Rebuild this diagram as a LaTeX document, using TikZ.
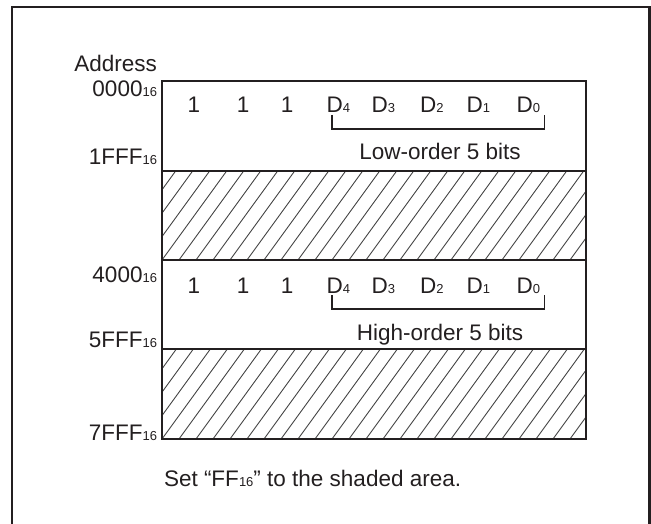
\documentclass[tikz,border=0pt]{standalone}
\usepackage{fontspec}
\setmainfont{Liberation Sans}
\newcommand{\smallsub}[1]{{\fontsize{13}{13}\selectfont #1}}
\definecolor{ink}{HTML}{231F20}
\definecolor{hatchgray}{HTML}{444444}
\begin{document}
\begin{tikzpicture}[x=1pt,y=-1pt,
  font=\fontsize{22.5}{27}\selectfont,
  every node/.style={inner sep=0pt,outer sep=0pt,text=ink},
  addrlabel/.style={anchor=base east},
  cell/.style={anchor=base west},
  frameline/.style={draw=ink,line width=2.2pt},
  boxline/.style={draw=ink,line width=2pt},
  hatchline/.style={draw=hatchgray,line width=0.9pt},
  bracketline/.style={draw=ink,line width=1.8pt}]
\useasboundingbox (0,0) rectangle (651,524);
% outer frame (bottom edge off the picture)
\draw[frameline] (12,530) -- (12,7) -- (649.5,7) -- (649.5,530);

% hatched bands
\foreach \t/\b in {170.7/260, 349.3/439}{
  \begin{scope}
    \clip (162,\t) rectangle (586,\b);
    \foreach \k in {-6,...,25}{
      \draw[hatchline] ({162+\k*17},\b) -- ++({(\b-\t)/tan(54)},{-(\b-\t)});
    }
  \end{scope}
}

% memory box
\draw[boxline] (162,80.7) rectangle (586,439);
\draw[boxline] (162,170.7) -- (586,170.7);
\draw[boxline] (162,260) -- (586,260);
\draw[boxline] (162,349.3) -- (586,349.3);

% addresses
\node[addrlabel] (addr) at (157,72) {Address};
\node[addrlabel] (a0000) at (157,97) {0000\smallsub{16}};
\node[addrlabel] (a1fff) at (157,165) {1FFF\smallsub{16}};
\node[addrlabel] (a4000) at (157,282) {4000\smallsub{16}};
\node[addrlabel] (a5fff) at (157,347) {5FFF\smallsub{16}};
\node[addrlabel] (a7fff) at (157,440) {7FFF\smallsub{16}};

% row 1
\node[cell] (r1a) at (187.5,113) {1};
\node[cell] (r1b) at (236.8,113) {1};
\node[cell] (r1c) at (280.8,113) {1};
\node[cell] (r1d4) at (326.6,113) {D\smallsub{4}};
\node[cell] (r1d3) at (371.6,113) {D\smallsub{3}};
\node[cell] (r1d2) at (420,113) {D\smallsub{2}};
\node[cell] (r1d1) at (466.6,113) {D\smallsub{1}};
\node[cell] (r1d0) at (516.6,113) {D\smallsub{0}};
\coordinate (b1l) at (332,115);
\coordinate (b1r) at (544.5,115);
\draw[bracketline] (b1l) -- ++(0,14) -| (b1r);
\node[anchor=base] (low) at (440,160) {Low-order 5 bits};

% row 2
\node[cell] (r2a) at (187.5,293) {1};
\node[cell] (r2b) at (236.8,293) {1};
\node[cell] (r2c) at (280.8,293) {1};
\node[cell] (r2d4) at (326.6,293) {D\smallsub{4}};
\node[cell] (r2d3) at (371.6,293) {D\smallsub{3}};
\node[cell] (r2d2) at (420,293) {D\smallsub{2}};
\node[cell] (r2d1) at (466.6,293) {D\smallsub{1}};
\node[cell] (r2d0) at (516.6,293) {D\smallsub{0}};
\coordinate (b2l) at (332,295);
\coordinate (b2r) at (544.5,295);
\draw[bracketline] (b2l) -- ++(0,14) -| (b2r);
\node[anchor=base] (high) at (440,340) {High-order 5 bits};

% note
\node[anchor=base west] (note) at (164,486) {Set “FF\smallsub{16}” to the shaded area.};
\end{tikzpicture}
\end{document}
